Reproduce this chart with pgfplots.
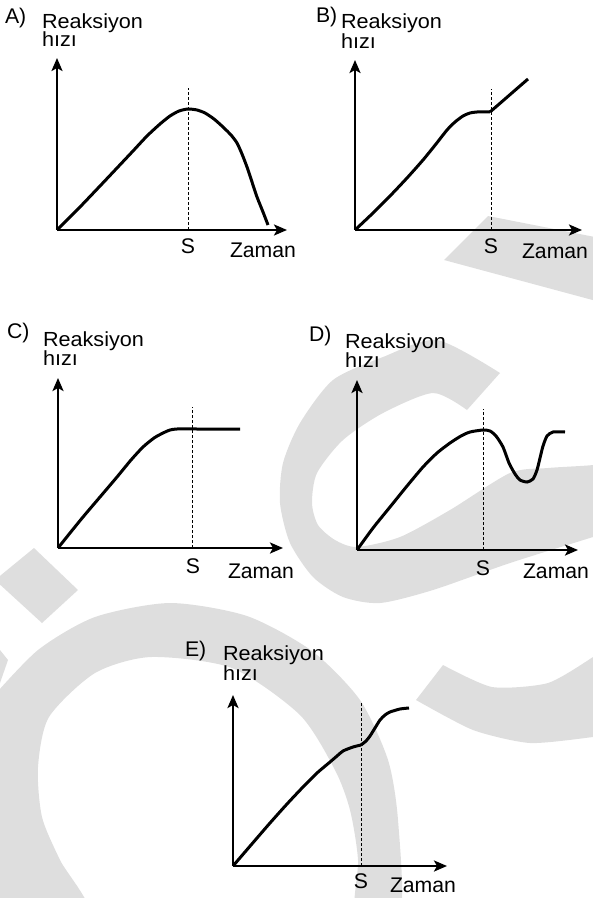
\documentclass[border=0pt]{standalone}
\usepackage{fontspec}
\setmainfont{Liberation Sans}
\newfontfamily\lblfont[FakeStretch=1.06]{Liberation Sans}
\usepackage{pgfplots}
\pgfplotsset{compat=1.18}
\usetikzlibrary{arrows.meta}
\definecolor{wm}{RGB}{222,222,222}

% 1 px of the reference = 0.5pt
\pgfplotsset{
  panel/.style={
    scale only axis, anchor=south west,
    axis lines=left, xmin=0, ymin=0,
    xtick=\empty, ytick=\empty, clip=false,
    axis line style={line width=1.2pt, -{Stealth[length=6.5pt,width=5.5pt,inset=1.5pt]}},
  },
  curve/.style={black, line width=1.5pt, smooth, tension=0.4, no markers},
  sline/.style={black, line width=0.5pt, dash pattern=on 1.5pt off 1pt, no markers},
}
\tikzset{t/.style={inner sep=0pt, outer sep=0pt}}
\newcommand{\lett}[1]{{\fontsize{10.6pt}{12pt}\selectfont #1}}
\newcommand{\ylab}[1]{{\lblfont\fontsize{10.2pt}{12pt}\selectfont #1}}

\begin{document}
\begin{tikzpicture}
\useasboundingbox (0,0) rectangle (296.5pt,-449pt);

% background: watermark and texts, in pixel coordinates
\begin{axis}[
  at={(0,0)}, anchor=north west, scale only axis,
  width=296.5pt, height=449pt,
  xmin=0, xmax=593, ymin=0, ymax=898, y dir=reverse,
  hide axis,
]
  \addplot[fill=wm, draw=none] coordinates {(488,216)(600,238)(600,302)(444,260)};
  \addplot[fill=wm, draw=none, smooth, tension=0.45] coordinates {
    (500,373)(437,340)(383,357)(333,380)(300,423)(283,463)(280,503)(290,543)
    (313,577)(343,597)(380,603)(433,590)(510,563)(593,537)(615,530)
    (615,460)(593,465)(548,468)(510,473)(450,510)(400,537)(357,547)(335,540)
    (318,525)(312,503)(317,473)(343,440)(383,413)(433,393)(467,410)};
  \addplot[fill=wm, draw=none] coordinates {(34,548)(78,590)(42,623)(-5,580)};
  \addplot[fill=wm, draw=none] coordinates {(0,650)(8,660)(0,683)};
  \addplot[fill=wm, draw=none, smooth, tension=0.45] coordinates {
    (-10,700)(38,650)(95,617)(170,603)(247,616)(312,651)(360,700)(388,760)
    (398,820)(400,915)(356,915)(358,860)(350,810)(335,770)(300,715)(232,668)
    (151,657)(95,673)(49,717)(38,767)(42,817)(60,860)(88,915)(-10,915)};
  \addplot[fill=wm, draw=none, smooth, tension=0.4] coordinates {
    (416,700)(473,730)(530,743)(593,737)(615,733)(615,640)(593,657)(548,683)
    (492,687)(443,665)};

  % A
  \node[t, anchor=base west] at (5,23) {\lett{A)}};
  \node[t, anchor=base west] at (42,28) {\ylab{Reaksiyon}};
  \node[t, anchor=base west] at (42,46.5) {\ylab{hızı}};
  \node[t, anchor=base] at (188,253) {\lett{S}};
  \node[t, anchor=base west] at (230,257) {\lett{Zaman}};
  % B
  \node[t, anchor=base west] at (316,22) {\lett{B)}};
  \node[t, anchor=base west] at (341,28.5) {\ylab{Reaksiyon}};
  \node[t, anchor=base west] at (341,48) {\ylab{hızı}};
  \node[t, anchor=base] at (491,253) {\lett{S}};
  \node[t, anchor=base west] at (522,258) {\lett{Zaman}};
  % C
  \node[t, anchor=base west] at (7,338) {\lett{C)}};
  \node[t, anchor=base west] at (43,346) {\ylab{Reaksiyon}};
  \node[t, anchor=base west] at (43,365) {\ylab{hızı}};
  \node[t, anchor=base] at (193,573) {\lett{S}};
  \node[t, anchor=base west] at (228,578) {\lett{Zaman}};
  % D
  \node[t, anchor=base west] at (309,341) {\lett{D)}};
  \node[t, anchor=base west] at (345,348) {\ylab{Reaksiyon}};
  \node[t, anchor=base west] at (345,367.5) {\ylab{hızı}};
  \node[t, anchor=base] at (483,575) {\lett{S}};
  \node[t, anchor=base west] at (523,578) {\lett{Zaman}};
  % E
  \node[t, anchor=base west] at (185,656) {\lett{E)}};
  \node[t, anchor=base west] at (223,660) {\ylab{Reaksiyon}};
  \node[t, anchor=base west] at (223,680) {\ylab{hızı}};
  \node[t, anchor=base] at (361,888) {\lett{S}};
  \node[t, anchor=base west] at (390,892) {\lett{Zaman}};
\end{axis}

% A
\begin{axis}[panel, at={(28.5pt,-115pt)}, width=115pt, height=86pt, xmax=230, ymax=172]
  \addplot[sline] coordinates {(131,0)(131,142)};
  \addplot[curve] coordinates {(0,0)(22,22)(43,44)(60,62)(76,79)(90,94)(103,106)
    (113,114)(122,119)(131,121)(140,120)(148,117)(157,111)(166,103)(174,95)
    (180,87)(185,76)(190,63)(195,48)(200,33)(206,18)(211,5)};
\end{axis}

% B
\begin{axis}[panel, at={(177.5pt,-115pt)}, width=113.5pt, height=85pt, xmax=227, ymax=170]
  \addplot[sline] coordinates {(136,0)(136,141)};
  \addplot[curve] coordinates {(0,0)(18,17)(35,34)(52,52)(68,70)(81,86)(92,100)
    (100,108)(108,114)(115,117)(122,118)(135,118)};
  \addplot[curve, sharp plot] coordinates {(135,118)(173,151)};
\end{axis}

% C
\begin{axis}[panel, at={(29pt,-274pt)}, width=112.5pt, height=85pt, xmax=225, ymax=170]
  \addplot[sline] coordinates {(134,0)(134,141)};
  \addplot[curve] coordinates {(0,0)(12,15)(25,31)(42,51)(59,71)(73,88)(85,101)
    (96,110)(105,115)(112,118)(119,119)(140,119)(182,119)};
\end{axis}

% D
\begin{axis}[panel, at={(178.5pt,-275pt)}, width=110.5pt, height=85pt, xmax=221, ymax=170]
  \addplot[sline] coordinates {(126,0)(126,141)};
  \addplot[curve] coordinates {(0,0)(16,22)(33,43)(50,64)(66,83)(80,97)(93,107)
    (104,114)(113,118)(126,120)(133,119)(139,114)(146,103)(152,87)(158,76)
    (163,70)(170,68)(176,71)(180,80)(183,92)(186,104)(190,114)(196,118)(208,118)};
\end{axis}

% E
\begin{axis}[panel, at={(116.5pt,-433pt)}, width=107pt, height=85.5pt, xmax=214, ymax=171]
  \addplot[sline] coordinates {(128,0)(128,164)};
  \addplot[curve] coordinates {(0,0)(18,21)(37,43)(54,62)(70,79)(84,93)(97,104)
    (104,110)(110,115)(120,119)(128,121)};
  \addplot[curve] coordinates {(128,121)(133,125)(137,130)(142,138)(147,146)
    (152,151)(157,154)(167,157)(176,158)};
\end{axis}
\end{tikzpicture}
\end{document}
